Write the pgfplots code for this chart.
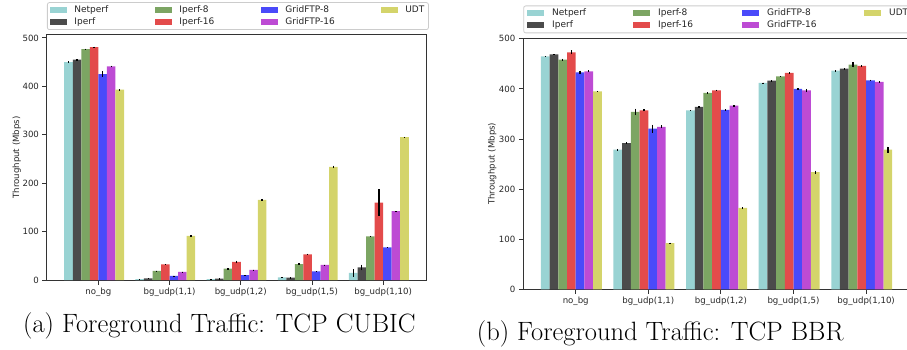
\documentclass[border=0pt]{standalone}
\usepackage{fontspec}
\usepackage{pgfplots}
\usepackage{pgfplotstable}
\pgfplotsset{compat=1.18}
\newfontfamily\dejavu{DejaVu Sans}

\definecolor{cNet}{HTML}{99D3D3}
\definecolor{cIp}{HTML}{4B4B4B}
\definecolor{cIpa}{HTML}{7CA563}
\definecolor{cIpb}{HTML}{E34B4B}
\definecolor{cGa}{HTML}{4A4AFA}
\definecolor{cGb}{HTML}{BD4BD4}
\definecolor{cUDT}{HTML}{D4D46B}
\definecolor{spine}{HTML}{333333}

% CUBIC
\pgfplotstableread{
x net nete ip ipe ipa ipae ipb ipbe ga gae gb gbe udt udte
0 450 2 455 1 477 1 481 1 425 6 441 2 393 1
1 2 0.5 3.5 0.5 18.6 1 32.4 1 8.3 0.5 16.6 0.5 91 1
2 2 0.5 3 0.5 23.4 1.5 37.2 3 10.3 0.5 20.7 0.5 165.5 2
3 5.5 0.5 5 0.5 33 1.5 53 1.5 18 0.5 31 1 233.8 2.5
4 14.5 8 26 6 90 1 160 27 67.6 0.5 142 0.5 295 0.5
}\cubic

% BBR
\pgfplotstableread{
x net nete ip ipe ipa ipae ipb ipbe ga gae gb gbe udt udte
0 465 1 469 0.5 458.6 2 473 4 433 3.5 435 2 395 0.5
1 278.6 1.5 292 2 354 6.5 357 2 320.6 8 324 3 92 1
2 357 1 364 1.5 392 1.5 397 1.5 358 1 366.6 1 162.6 1
3 412 0.5 416.6 0.5 425 1 432 1 400 1 397 3 234 3
4 436.6 0.5 440.6 0.5 448.6 5.5 446 1 417 1.5 414 1.5 279 6
}\bbr

\pgfplotsset{
  chart/.style={
    scale only axis,
    ymin=0, xmin=-0.722, xmax=4.602,
    xtick={0,1,2,3,4},
    xticklabels={{no\_bg},{bg\_udp(1,1)},{bg\_udp(1,2)},{bg\_udp(1,5)},{bg\_udp(1,10)}},
    ytick={0,100,200,300,400,500},
    tick pos=left, tick align=outside, major tick length=4.5pt,
    axis line style={spine, line width=1pt},
    tick style={spine, line width=0.9pt},
    ticklabel style={font=\dejavu\fontsize{8.6}{10}\selectfont, text=black!85},
    /pgf/number format/assume math mode=true,
    ylabel={Throughput (Mbps)},
    every axis y label/.style={at={(axis description cs:0,0.5)}, xshift=-#1, rotate=90, anchor=center,
      font=\dejavu\fontsize{8.6}{10}\selectfont, text=black!85},
    legend columns=2, transpose legend,
    legend style={
      at={(axis description cs:0,1)}, anchor=south west, yshift=5pt,
      draw=black!20, line width=0.8pt, rounded corners=2pt, fill=white,
      font=\dejavu\fontsize{9}{10}\selectfont, text=black!85,
      inner xsep=3pt, inner ysep=3.5pt,
      nodes={inner xsep=0pt, inner ysep=0pt, text height=6.2pt, text depth=1.8pt},
      row sep=4pt, column sep=0pt,
      cells={anchor=west},
    },
  },
  bs/.style={ybar, bar width=0.12, bar shift=0pt, draw=none,
    legend image code/.code={\fill[##1, sharp corners] (0pt,-3pt) rectangle (17pt,3pt);},
    error bars/y dir=both, error bars/y explicit,
    error bars/error bar style={black, line width=1.3pt}, error bars/error mark=none},
}
% legend text with the gap after the patch and a fixed column width
\newcommand{\lb}[3]{\makebox[#1][l]{\hspace{#2}#3}}

\begin{document}
\begin{tikzpicture}
\useasboundingbox (0pt,0pt) rectangle (907pt,349pt);
\clip (0pt,0pt) rectangle (907pt,349pt);

\begin{axis}[chart=30.3pt, at={(47pt,69pt)}, anchor=south west,
  width=379pt, height=245pt, ymax=506]
\addplot[bs, fill=cNet] table[x expr=\thisrow{x}-0.42, y=net, y error=nete]{\cubic};
\addlegendentry{\lb{88pt}{7pt}{Netperf}}
\addplot[bs, fill=cIp] table[x expr=\thisrow{x}-0.30, y=ip, y error=ipe]{\cubic};
\addlegendentry{\lb{88pt}{7pt}{Iperf}}
\addplot[bs, fill=cIpa] table[x expr=\thisrow{x}-0.18, y=ipa, y error=ipae]{\cubic};
\addlegendentry{\lb{89pt}{7pt}{Iperf-8}}
\addplot[bs, fill=cIpb] table[x expr=\thisrow{x}-0.06, y=ipb, y error=ipbe]{\cubic};
\addlegendentry{\lb{89pt}{7pt}{Iperf-16}}
\addplot[bs, fill=cGa] table[x expr=\thisrow{x}+0.06, y=ga, y error=gae]{\cubic};
\addlegendentry{\lb{103pt}{7pt}{GridFTP-8}}
\addplot[bs, fill=cGb] table[x expr=\thisrow{x}+0.18, y=gb, y error=gbe]{\cubic};
\addlegendentry{\lb{103pt}{7pt}{GridFTP-16}}
\addplot[bs, fill=cUDT] table[x expr=\thisrow{x}+0.30, y=udt, y error=udte]{\cubic};
\addlegendentry{\lb{27pt}{7pt}{UDT}}
\end{axis}

\begin{axis}[chart=31pt, at={(523.3pt,59.7pt)}, anchor=south west,
  width=386.5pt, height=251pt, ymax=501,
  legend style={inner xsep=3.5pt}]
\addplot[bs, fill=cNet] table[x expr=\thisrow{x}-0.42, y=net, y error=nete]{\bbr};
\addlegendentry{\lb{89pt}{8pt}{Netperf}}
\addplot[bs, fill=cIp] table[x expr=\thisrow{x}-0.30, y=ip, y error=ipe]{\bbr};
\addlegendentry{\lb{89pt}{8pt}{Iperf}}
\addplot[bs, fill=cIpa] table[x expr=\thisrow{x}-0.18, y=ipa, y error=ipae]{\bbr};
\addlegendentry{\lb{92pt}{8pt}{Iperf-8}}
\addplot[bs, fill=cIpb] table[x expr=\thisrow{x}-0.06, y=ipb, y error=ipbe]{\bbr};
\addlegendentry{\lb{92pt}{8pt}{Iperf-16}}
\addplot[bs, fill=cGa] table[x expr=\thisrow{x}+0.06, y=ga, y error=gae]{\bbr};
\addlegendentry{\lb{105pt}{8pt}{GridFTP-8}}
\addplot[bs, fill=cGb] table[x expr=\thisrow{x}+0.18, y=gb, y error=gbe]{\bbr};
\addlegendentry{\lb{105pt}{8pt}{GridFTP-16}}
\addplot[bs, fill=cUDT] table[x expr=\thisrow{x}+0.30, y=udt, y error=udte]{\bbr};
\addlegendentry{\lb{28pt}{8pt}{UDT}}
\end{axis}

\node[anchor=base west, inner sep=0pt, font=\fontsize{26.5}{31}\selectfont] at (23pt,16.7pt) {(a) Foreground Traffic: TCP CUBIC};
\node[anchor=base west, inner sep=0pt, font=\fontsize{26.5}{31}\selectfont] at (476.7pt,8.3pt) {(b) Foreground Traffic: TCP BBR};
\end{tikzpicture}
\end{document}
